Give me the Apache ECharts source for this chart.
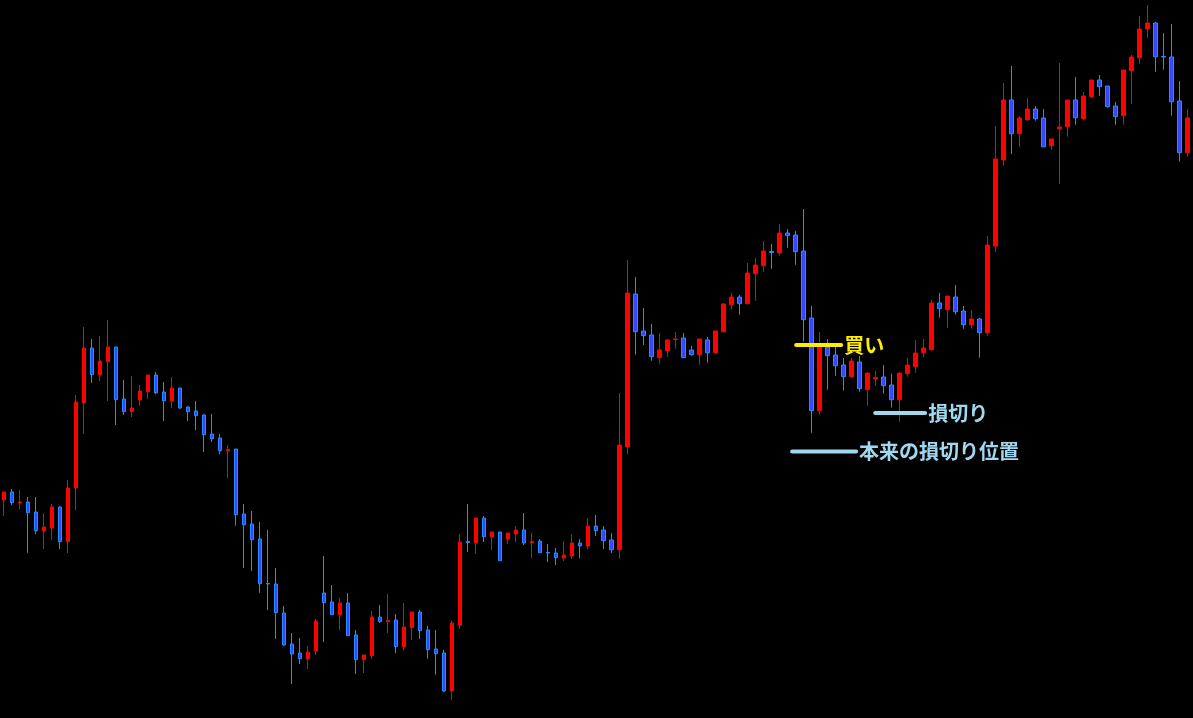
<!DOCTYPE html>
<html><head><meta charset="utf-8">
<script src="https://cdn.jsdelivr.net/npm/echarts@6/dist/echarts.min.js"></script>
<style>html,body{margin:0;padding:0;background:#000;}#c{width:1193px;height:718px;}</style>
</head><body><div id="c"></div>
<script>
// price values for each bar (index 0..148)
const opens = [
218,226,215,216,206,187,190,211,176.3,230,
315,370,343,356.3,371,319,306.3,318,326.3,343,
326,317,330,311,307,303,284,280,267.5,269,
204,194,179,134.5,134,105,74,65,59,67,
125,116,103,115,83,58.3,62.3,101,96.5,98,
71.3,90.3,106,88,69,65,27,93,176.5,175,
200,181,186,179,184,188,175.5,177,165.5,165,
160,162,175,172,192,188,178,168.3,271,424,
387,383,360.3,367,378.5,380,368,363.3,378,365.3,
386.3,413.3,421,414.3,444.3,452.3,466.5,465.3,485,483,
467,400,307.3,371,363,353,341.3,356,328.3,339,
341,333,318.3,344.3,351.3,365.3,368.3,415,408.3,421,
407,393.3,399,385.3,472,558,618,584.3,598.3,609,
600,572.3,589.3,591.3,618,599.3,621.3,638,632,612,
602.3,647.3,660.3,689,695,661.5,661,617,565.3];
const closes = [
226,215.3,216,205.3,187.3,191,211,176.3,230,316,
370,343.3,357,371,318.3,306.3,310,327,343,325.3,
317.3,330,310,306.3,302.3,283.3,279.3,267.3,268.5,203.3,
193.3,178.3,134.3,134,105.3,73,64,59.3,66,97,
115.3,103.3,115,82.3,58.3,63,101,96.3,97.5,71.3,
91,106,87.3,68.3,64.3,27,95,176,175.5,200,
181.3,186,157.3,185,188,175,176.5,165.3,165,160.3,
163,175,172,192,187.3,177.3,168.3,273,425,386.3,
382.3,361.3,368,378,379,360.3,363.3,379,365.3,387,
414,421,414.3,445,453,467,465.5,485,482.3,466.3,
398.3,307.3,370.7,362.3,352.3,341.3,357,329.3,345,340.5,
332.3,318.3,345,353,365,370,415,409.3,422,406.3,
393.3,399,385.3,473,559,618,584.3,600,609,599.3,
571.3,579,591,618,600.3,622,638,631.3,611.3,601.3,
648,661,689,695,661.3,661,616.3,565.3,600];
const lows = [
202,213,209,165.3,184,169,178,169,165,208,
284,335,337,317,293,303,301,312,319,324,
297,310,309,297,288,266,276,264,240,192.3,
150,147,125.3,108,79,72,34,54,49,63,
76,103.3,88,82.3,44,45,59,95,85,65,
67.3,78,79,59.3,43.3,26,18,89,166,164,
176,168,157.3,174,176,173,160,165.3,156,153,
157,159,160,169,182,169,165,159,264,363.3,
373,357.3,354.3,361.3,369.3,360.3,362.3,353.3,355.3,364.3,
386.3,408.3,403.3,413.3,417.3,446.3,449.3,462.3,470.3,453.3,
376.3,285.3,303.3,328.3,342.3,327.3,340.3,326.3,312.3,332.3,
324.3,310.3,296.3,341.3,345.3,360.3,367.3,400.3,390.3,403.3,
389.3,389.3,360.3,382.3,466,552,564,571,597,597.3,
571.3,568.3,534.3,581.3,593.3,598.3,620.3,622.3,610.3,593.3,
593.3,614.3,654.3,680.3,646.3,648.3,602.3,556.3,561.3];
const highs = [
226,229,228,221,221,205,214,212,238,323,
391,379,382,398,371,338,342,333,343,346,
336,341,330,312,317,304,304,284,273,269,
214,207,196,188,150,112,85,80,72,99,
162,133,120,125,88,63,107,113,124,104,
115,106,108,92,88,68,97,184,214,200,
202,186,186,185,192,205,185,179,174,170,
177,184,179,200,203,192,185,325,458,441,
410,394,385,379,386,385,372,379,381,387,
415,425,423,455,460,477,474,494,489,487,
509,412,386,379,371,360,360,362,345,347,
353,344.3,345,360,378,379,418,425,422,433,
412,408,400,482,592,635,652,602,620,612,
609,579,655,618,641,626,638,643,632,616,
648,663,702,713,696,685,694,637,609];
const categories = opens.map((_, i) => String(i + 1));

// annotation levels (price) and bar-index spans
const annoLabels = ['買い', '損切り', '本来の損切り位置'];
const annoLevels = [373, 305, 266.5];
const annoFrom = [99.06, 108.94, 98.56];
const annoTo = [104.69, 115.19, 106.56];
const annoColors = ['#ffee00', '#a0d8ef', '#a0d8ef'];

const candleData = opens.map((o, i) => [o, closes[i], lows[i], highs[i]]);

const annoSeries = annoLabels.map((lab, k) => ({
  type: 'line',
  xAxisIndex: 1,
  yAxisIndex: 0,
  data: [[annoFrom[k], annoLevels[k]], [annoTo[k], annoLevels[k]]],
  showSymbol: false,
  symbol: 'none',
  silent: true,
  lineStyle: { color: annoColors[k], width: 4, cap: 'round' },
  endLabel: {
    show: true,
    formatter: lab,
    color: annoColors[k],
    fontSize: 20,
    fontWeight: 'bold',
    fontFamily: '"Noto Sans CJK JP", sans-serif',
    distance: 3
  },
  z: 5
}));

const chart = echarts.init(document.getElementById('c'), null, { renderer: 'canvas' });
chart.setOption({
  backgroundColor: '#000000',
  animation: false,
  grid: { left: -0.5, top: 0, width: 1192, height: 718 },
  xAxis: [
    { type: 'category', data: categories, show: false, boundaryGap: true },
    { type: 'value', min: -0.5, max: categories.length - 0.5, show: false }
  ],
  yAxis: { type: 'value', min: 0, max: 718, show: false, splitLine: { show: false } },
  series: [{
    type: 'candlestick',
    data: candleData,
    barWidth: 4,
    itemStyle: {
      color: '#ff0000',
      color0: '#3448ff',
      borderColor: '#ff0000',
      borderColor0: '#1e90ff',
      borderWidth: 1
    }
  }].concat(annoSeries)
});
</script>
</body></html>
